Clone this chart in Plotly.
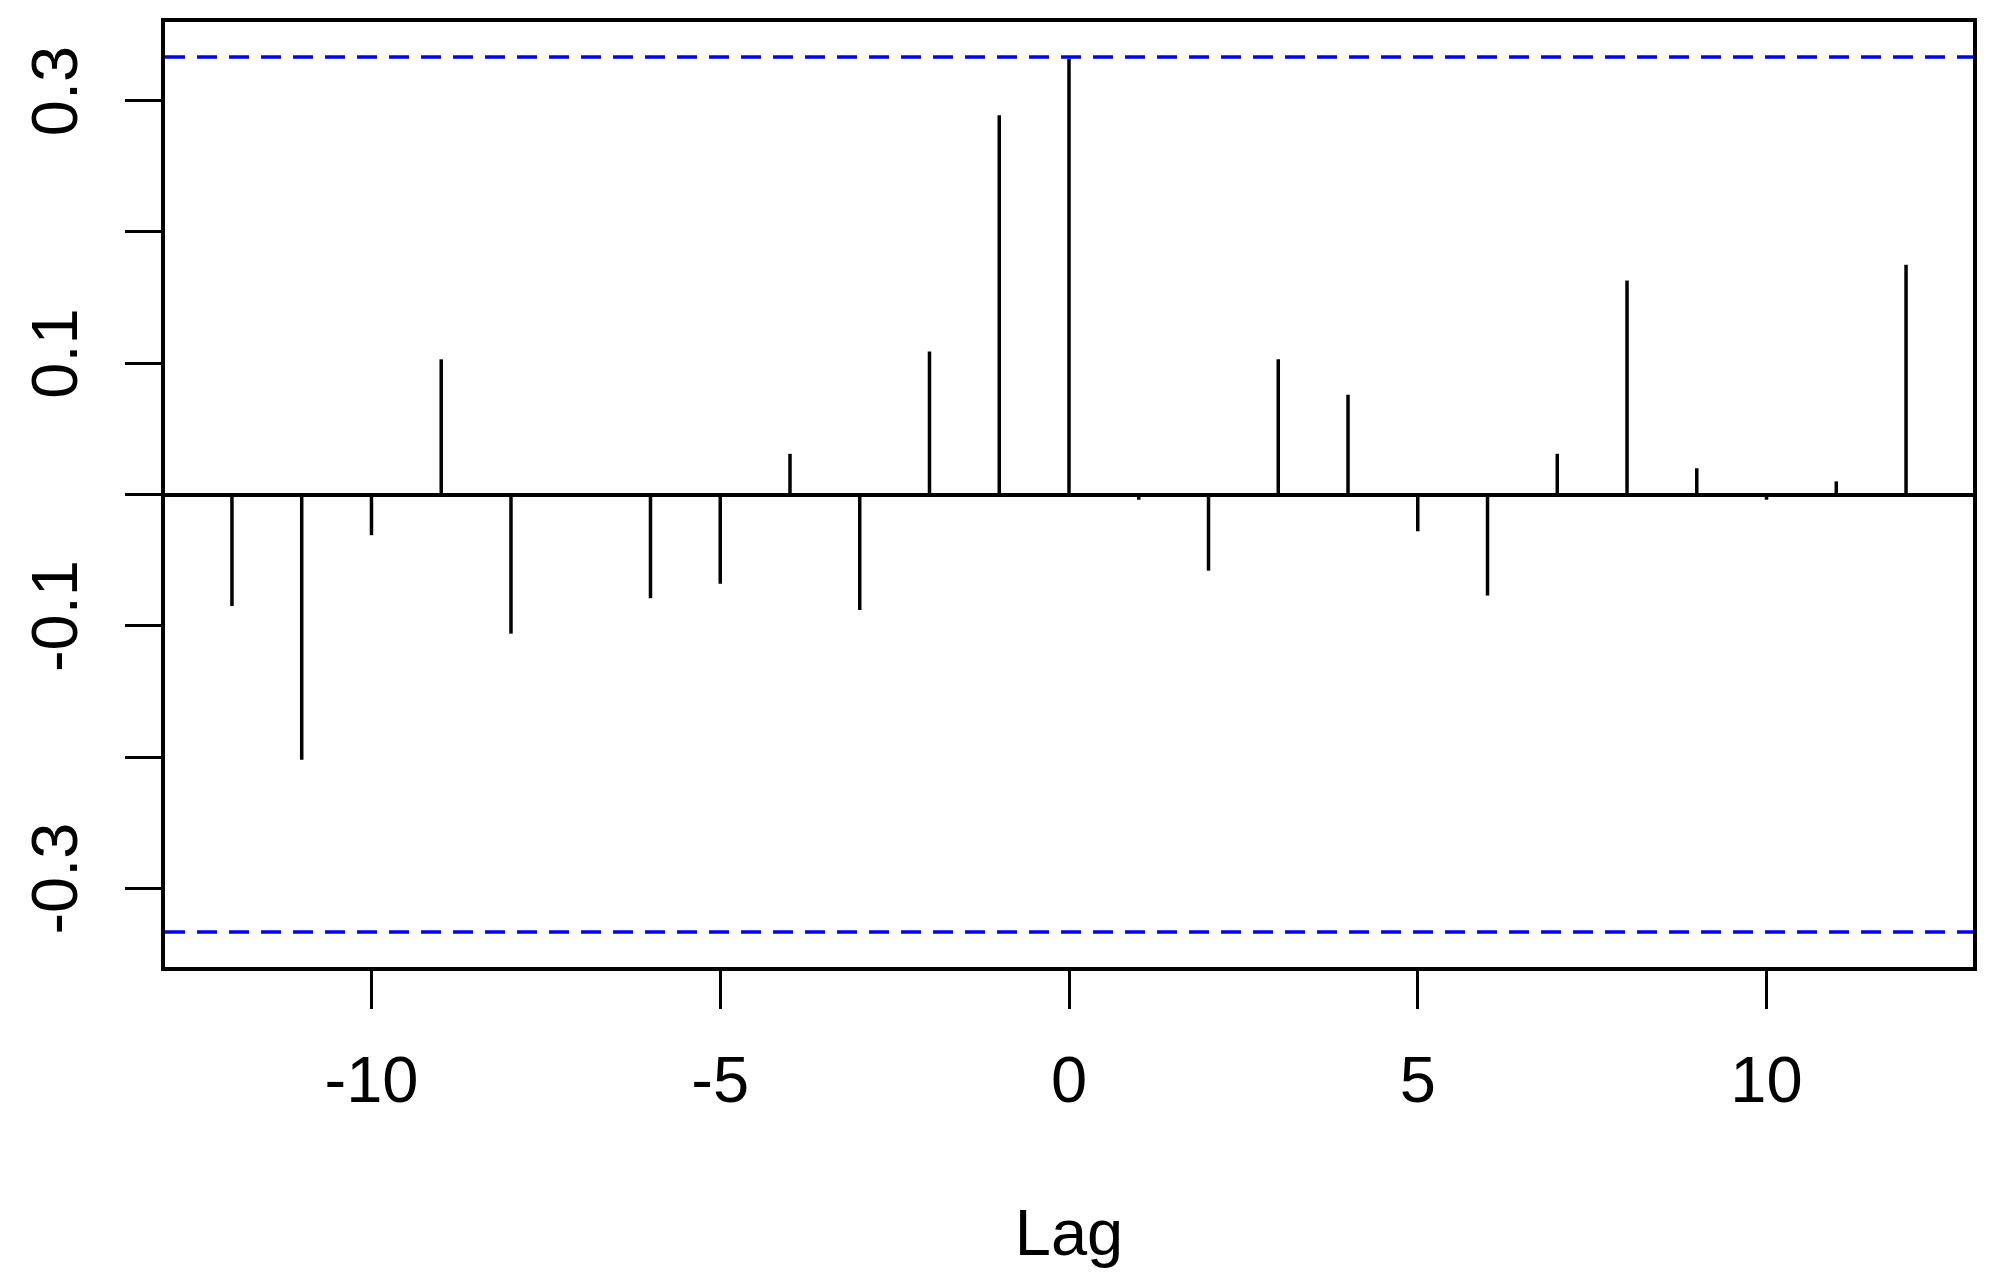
import plotly.graph_objects as go

# cross-correlation values by lag
lags = [-12, -11, -10, -9, -8, -7, -6, -5, -4, -3, -2, -1, 0,
        1, 2, 3, 4, 5, 6, 7, 8, 9, 10, 11, 12]
ccf_vals = [-0.085, -0.202, -0.031, 0.103, -0.106, 0.0, -0.079, -0.068, 0.031, -0.088, 0.109, 0.289, 0.332,
            -0.004, -0.058, 0.103, 0.076, -0.028, -0.077, 0.031, 0.163, 0.020, -0.004, 0.010, 0.175]
ci = 0.3333

y_ticks = [-0.3, -0.2, -0.1, 0.0, 0.1, 0.2, 0.3]
y_ticktext = ["-0.3", "", "-0.1", "", "0.1", "", "0.3"]
x_ticks = [-10, -5, 0, 5, 10]
x_ticktext = ["-10", "-5", "0", "5", "10"]

FONT = "Liberation Sans, Arial, sans-serif"

# vertical spikes, one segment per lag
seg_x, seg_y = [], []
for lag, v in zip(lags, ccf_vals):
    seg_x += [lag, lag, None]
    seg_y += [0, v, None]

fig = go.Figure()
fig.add_trace(
    go.Scatter(
        x=seg_x,
        y=seg_y,
        mode="lines",
        line={"color": "black", "width": 3.5},
        showlegend=False,
        hoverinfo="skip",
    )
)

# confidence bounds
for b in (ci, -ci):
    fig.add_shape(
        type="line",
        xref="paper",
        x0=0,
        x1=1,
        yref="y",
        y0=b,
        y1=b,
        line={"color": "#0000FF", "width": 3.5, "dash": "20px,12px"},
    )

# R-style 4% axis padding
span_x = (max(lags) - min(lags)) * 0.04
span_y = 2 * ci * 0.04

fig.update_layout(
    width=1993,
    height=1288,
    paper_bgcolor="white",
    plot_bgcolor="white",
    margin={"l": 155, "r": 28, "t": 10, "b": 329},
    font={"family": FONT, "size": 65, "color": "black"},
    xaxis={
        "range": [min(lags) - span_x, max(lags) + span_x],
        "tickvals": x_ticks,
        "ticktext": x_ticktext,
        "ticks": "outside",
        "ticklen": 38,
        "tickwidth": 3,
        "tickcolor": "black",
        "showgrid": False,
        "zeroline": False,
        "showline": True,
        "linecolor": "black",
        "linewidth": 4,
        "mirror": True,
        "ticklabelstandoff": 15,
        "title": {"text": "Lag", "font": {"size": 65}, "standoff": 95},
    },
    yaxis={
        "range": [-ci - span_y, ci + span_y],
        "tickvals": y_ticks,
        "ticktext": y_ticktext,
        "tickangle": -90,
        "ticks": "outside",
        "ticklen": 36,
        "tickwidth": 3,
        "tickcolor": "black",
        "showgrid": False,
        "zeroline": True,
        "zerolinecolor": "black",
        "zerolinewidth": 4,
        "showline": True,
        "linecolor": "black",
        "linewidth": 4,
        "mirror": True,
        "ticklabelstandoff": 22,
    },
)

fig.write_html("out.html")
